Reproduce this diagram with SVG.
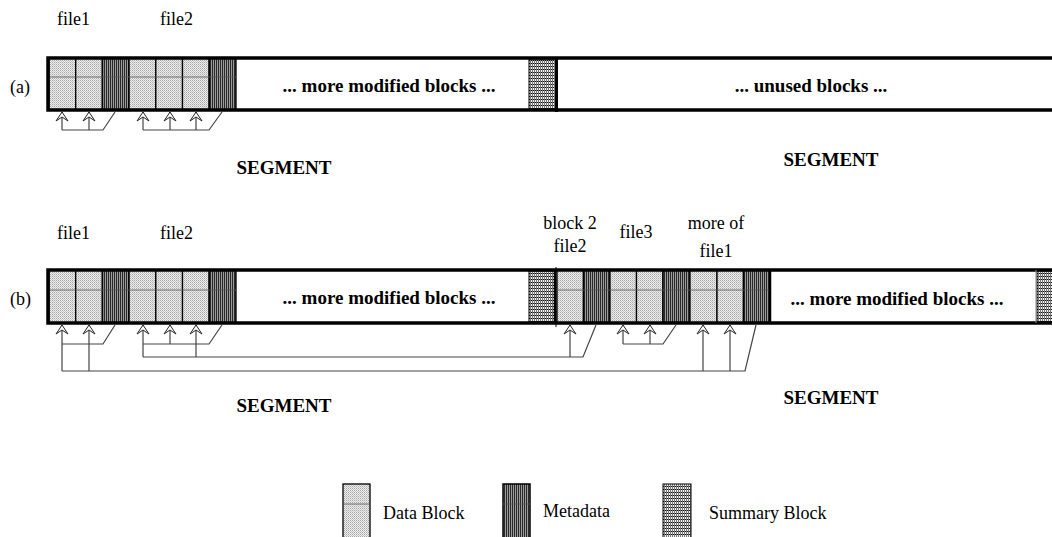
<svg xmlns="http://www.w3.org/2000/svg" width="1052" height="537" viewBox="0 0 1052 537">
<style>
text{font-family:"Liberation Serif","Times New Roman",serif;font-size:18px;fill:#000}
.b{font-weight:bold;font-size:19px}
.m{text-anchor:middle}
.data{fill:url(#pData);stroke:#000;stroke-width:1.3}
.meta{fill:url(#pMeta);stroke:#000;stroke-width:1.5}
.sum{fill:url(#pSum);stroke:#000;stroke-width:1}
.mid{stroke:#555;stroke-width:0.8}
.border{stroke:#000;stroke-width:3.5;fill:none}
.conn{stroke:#444;stroke-width:1.2;fill:none}
.arr{marker-end:url(#ah)}
</style>
<defs>
<pattern id="pData" width="2" height="2" patternUnits="userSpaceOnUse">
<rect width="2" height="2" fill="#ececec"/>
<rect width="1" height="1" fill="#a8a8a8"/>
<rect x="1" y="1" width="1" height="1" fill="#c8c8c8"/>
</pattern>
<pattern id="pMeta" width="2" height="2" patternUnits="userSpaceOnUse">
<rect width="2" height="2" fill="#9a9a9a"/>
<rect width="1" height="2" fill="#2a2a2a"/>
</pattern>
<pattern id="pSum" width="2" height="3" patternUnits="userSpaceOnUse">
<rect width="2" height="3" fill="#f2f2f2"/>
<rect width="2" height="1" fill="#111"/>
<rect width="1" height="3" fill="#777"/>
</pattern>
<marker id="ah" viewBox="-10 -7 12 14" markerWidth="12" markerHeight="14" refX="0" refY="0" orient="auto" markerUnits="userSpaceOnUse">
<path d="M0,0 L-9,-6 L-5,0 L-9,6 Z" fill="#fff" stroke="#222" stroke-width="1"/>
</marker>
</defs>

<g id="labels">
<text x="10" y="93">(a)</text>
<text x="10" y="305">(b)</text>
<text x="57" y="25">file1</text>
<text x="160" y="25">file2</text>
<text x="57" y="239">file1</text>
<text x="160" y="239">file2</text>
<text class="m" x="570" y="229">block 2</text>
<text class="m" x="570" y="252">file2</text>
<text class="m" x="636" y="238">file3</text>
<text class="m" x="716" y="229">more of</text>
<text class="m" x="716" y="257">file1</text>
<text class="b m" x="284" y="174">SEGMENT</text>
<text class="b m" x="831" y="166">SEGMENT</text>
<text class="b m" x="284" y="412">SEGMENT</text>
<text class="b m" x="831" y="404">SEGMENT</text>
</g>

<g id="segment-a">
<rect class="data" x="49" y="58" width="26.7" height="52"/>
<rect class="data" x="75.7" y="58" width="26.7" height="52"/>
<rect class="meta" x="102.4" y="58" width="26.7" height="52"/>
<rect class="data" x="129.1" y="58" width="26.7" height="52"/>
<rect class="data" x="155.8" y="58" width="26.7" height="52"/>
<rect class="data" x="182.5" y="58" width="26.7" height="52"/>
<rect class="meta" x="209.2" y="58" width="26.7" height="52"/>
<path class="mid" d="M49,77H236"/>
<rect class="sum" x="529" y="59" width="26.5" height="50"/>
<path class="border" d="M1054,58H48V110H1054"/>
<path d="M556.5,57V112" stroke="#000" stroke-width="3"/>
<text class="b m" x="389" y="92">... more modified blocks ...</text>
<text class="b m" x="811" y="92">... unused blocks ...</text>
</g>

<g id="segment-b">
<rect class="data" x="49" y="270" width="26.7" height="53"/>
<rect class="data" x="75.7" y="270" width="26.7" height="53"/>
<rect class="meta" x="102.4" y="270" width="26.7" height="53"/>
<rect class="data" x="129.1" y="270" width="26.7" height="53"/>
<rect class="data" x="155.8" y="270" width="26.7" height="53"/>
<rect class="data" x="182.5" y="270" width="26.7" height="53"/>
<rect class="meta" x="209.2" y="270" width="26.7" height="53"/>
<rect class="sum" x="529" y="271" width="26.5" height="51"/>
<rect class="data" x="557" y="270" width="26.5" height="53"/>
<rect class="meta" x="583.5" y="270" width="26.5" height="53"/>
<rect class="data" x="610" y="270" width="26.5" height="53"/>
<rect class="data" x="636.5" y="270" width="26.5" height="53"/>
<rect class="meta" x="663" y="270" width="27" height="53"/>
<rect class="data" x="690" y="270" width="27" height="53"/>
<rect class="data" x="717" y="270" width="26.5" height="53"/>
<rect class="meta" x="743.5" y="270" width="26.5" height="53"/>
<path class="mid" d="M49,290H236M557,290H770"/>
<rect class="sum" x="1037" y="271" width="20" height="51"/>
<path class="border" d="M1054,270H48V323H1054"/>
<path d="M556,267V327" stroke="#000" stroke-width="1"/>
<path d="M555,270V323M770,270V323" stroke="#000" stroke-width="2.5"/>
<path d="M1036,270V323" stroke="#888" stroke-width="1"/>
<text class="b m" x="389" y="304">... more modified blocks ...</text>
<text class="b m" x="897" y="305">... more modified blocks ...</text>
</g>

<g id="connectors">
<path class="conn arr" d="M62,130V112"/>
<path class="conn arr" d="M89,130V112"/>
<path class="conn" d="M62,130H103L115,112"/>
<path class="conn arr" d="M143,130V112"/>
<path class="conn arr" d="M170,130V112"/>
<path class="conn arr" d="M196,130V112"/>
<path class="conn" d="M143,130H209L222,112"/>

<path class="conn arr" d="M62,371V325"/>
<path class="conn arr" d="M89,371V325"/>
<path class="conn" d="M62,344H103L115,325"/>
<path class="conn" d="M62,371H745L756,325"/>
<path class="conn arr" d="M703,371V325"/>
<path class="conn arr" d="M730,371V325"/>
<path class="conn arr" d="M143,357V325"/>
<path class="conn arr" d="M170,344V325"/>
<path class="conn arr" d="M196,357V325"/>
<path class="conn" d="M143,344H209L222,325"/>
<path class="conn" d="M143,357H583L596,325"/>
<path class="conn arr" d="M570,357V325"/>
<path class="conn arr" d="M623,344V325"/>
<path class="conn arr" d="M650,344V325"/>
<path class="conn" d="M623,344H663L676,325"/>
</g>

<g id="legend">
<g id="legend-data">
<rect class="data" x="343" y="484" width="27" height="56" stroke-width="1"/>
<path class="mid" d="M343,504H370"/>
<text x="383" y="519">Data Block</text>
</g>
<g id="legend-meta">
<rect class="meta" x="503" y="484" width="27" height="56" stroke-width="1"/>
<path class="mid" d="M503,504H530"/>
<text x="543" y="517">Metadata</text>
</g>
<g id="legend-summary">
<rect class="sum" x="663" y="484" width="28" height="56"/>
<text x="709" y="519">Summary Block</text>
</g>
</g>
</svg>
